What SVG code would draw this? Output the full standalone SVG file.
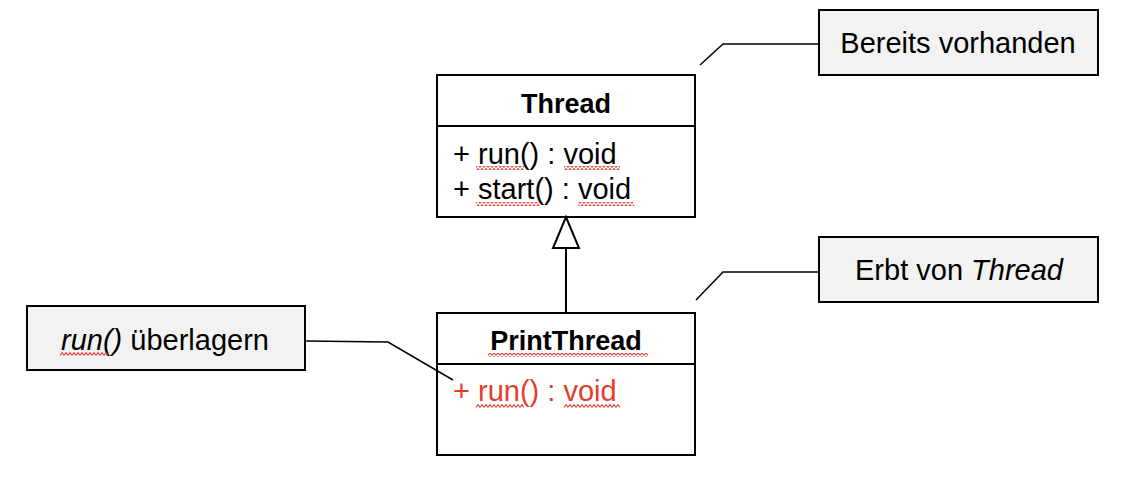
<svg xmlns="http://www.w3.org/2000/svg" width="1136" height="498" viewBox="0 0 1136 498">
<style>
  text { font-family: "Liberation Sans", Arial, sans-serif; font-size: 29px; fill: #000; }
  .title { font-weight: bold; font-size: 27px; text-anchor: middle; }
  .red { fill: #e63c2c; }
  .box { fill: #fff; stroke: #000; stroke-width: 2; }
  .note { fill: #f2f2f2; stroke: #000; stroke-width: 2; }
  .line { fill: none; stroke: #000; stroke-width: 1.5; }
  .conn { fill: none; stroke: #000; stroke-width: 2; }
  .mid { text-anchor: middle; }
  .it { font-style: italic; }
</style>
<defs>
  <pattern id="sq" width="4" height="4" patternUnits="userSpaceOnUse">
    <path d="M0,3.4 L2,0.6 L4,3.4" fill="none" stroke="#e8453a" stroke-width="1.1"/>
  </pattern>
</defs>
<rect width="1136" height="498" fill="#fff"/>

<g id="thread">
  <rect class="box" x="437" y="75" width="258" height="142"/>
  <line x1="437" y1="126" x2="695" y2="126" stroke="#000" stroke-width="2"/>
  <text class="title" x="566" y="113">Thread</text>
  <text x="453" y="164">+ run() : void</text>
  <text x="453" y="199">+ start() : void</text>
  <rect x="476" y="166" width="48" height="4" fill="url(#sq)"/>
  <rect x="564" y="166" width="56" height="4" fill="url(#sq)"/>
  <rect x="476" y="202" width="64" height="4" fill="url(#sq)"/>
  <rect x="578" y="202" width="56" height="4" fill="url(#sq)"/>
</g>

<g id="printthread">
  <rect class="box" x="437" y="313" width="258" height="142"/>
  <line x1="437" y1="364" x2="695" y2="364" stroke="#000" stroke-width="2"/>
  <text class="title" x="566" y="350">PrintThread</text>
  <rect x="488" y="353" width="160" height="4" fill="url(#sq)"/>
  <text class="red" x="453" y="401">+ run() : void</text>
  <rect x="476" y="404" width="48" height="4" fill="url(#sq)"/>
  <rect x="564" y="404" width="56" height="4" fill="url(#sq)"/>
</g>

<g id="note-bereits">
  <rect class="note" x="819" y="10" width="279" height="65"/>
  <text class="mid" x="958" y="53">Bereits vorhanden</text>
</g>

<g id="note-erbt">
  <rect class="note" x="819" y="237" width="279" height="65"/>
  <text class="mid" x="959" y="280">Erbt von <tspan class="it">Thread</tspan></text>
</g>

<g id="note-run">
  <rect class="note" x="27" y="306" width="278" height="64"/>
  <text class="mid" x="165" y="350"><tspan class="it">run()</tspan> überlagern</text>
  <rect x="60" y="352" width="48" height="4" fill="url(#sq)"/>
</g>

<g id="connectors">
  <path class="conn" d="M566,313 L566,248"/>
  <path d="M566,217 L553,248 L579,248 Z" fill="#fff" stroke="#000" stroke-width="2"/>
  <path class="line" d="M819,44 L723,44 L700,65"/>
  <path class="line" d="M819,272 L723,272 L696,300"/>
  <path class="line" d="M306,341 L388,342 L453,380"/>
</g>
</svg>
